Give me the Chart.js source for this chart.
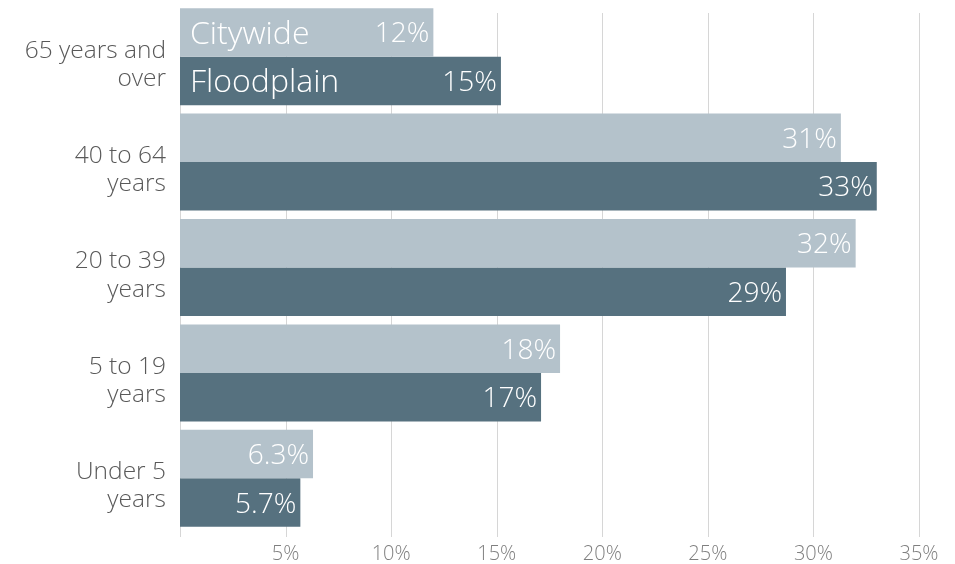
<!DOCTYPE html>
<html>
<head>
<meta charset="utf-8">
<script src="https://cdn.jsdelivr.net/npm/chart.js@4/dist/chart.umd.min.js"></script>
<style>
  html, body { margin: 0; padding: 0; background: #ffffff; }
  #wrap { width: 955px; height: 564px; position: relative; }
</style>
</head>
<body>
<div id="wrap"><canvas id="c"></canvas></div>
<script>
const categories = [
  ["65 years and", "over"],
  ["40 to 64", "years"],
  ["20 to 39", "years"],
  ["5 to 19", "years"],
  ["Under 5", "years"]
];
const seriesNames = ["Citywide", "Floodplain"];
const citywide = [12.0, 31.3, 32.0, 18.0, 6.3];
const floodplain = [15.2, 33.0, 28.7, 17.1, 5.7];
const xTicks = [0, 5, 10, 15, 20, 25, 30, 35];

const FONT = "'Open Sans', 'Segoe UI', sans-serif";

function fmt(v) {
  return v < 10 ? v.toFixed(1) + "%" : Math.round(v) + "%";
}

const gridPlugin = {
  id: 'customGrid',
  beforeDatasetsDraw(chart) {
    const ctx = chart.ctx;
    const xs = chart.scales.x;
    const area = chart.chartArea;
    ctx.save();
    ctx.strokeStyle = '#d6d6d6';
    ctx.lineWidth = 1;
    xTicks.forEach(t => {
      const px = Math.round(xs.getPixelForValue(t)) + 0.5;
      ctx.beginPath();
      ctx.moveTo(px, area.top + 9);
      ctx.lineTo(px, area.bottom + 6);
      ctx.stroke();
    });
    ctx.restore();
  }
};

const labelPlugin = {
  id: 'barLabels',
  afterDatasetsDraw(chart) {
    const ctx = chart.ctx;
    ctx.save();
    ctx.fillStyle = '#ffffff';
    chart.data.datasets.forEach((ds, di) => {
      const meta = chart.getDatasetMeta(di);
      meta.data.forEach((bar, i) => {
        ctx.font = "300 28px " + FONT;
        ctx.textAlign = 'right';
        ctx.textBaseline = 'middle';
        ctx.fillText(fmt(ds.data[i]), bar.x - 4, bar.y + 2);
        if (i === 0) {
          ctx.font = "300 32px " + FONT;
          ctx.textAlign = 'left';
          ctx.fillText(ds.label, bar.base + 10, bar.y + 2);
        }
      });
    });
    ctx.restore();
  }
};

new Chart(document.getElementById('c'), {
  type: 'bar',
  data: {
    labels: categories,
    datasets: [
      { label: seriesNames[0], data: citywide, backgroundColor: '#b4c2cb', borderWidth: 0,
        categoryPercentage: 0.92, barPercentage: 1.0 },
      { label: seriesNames[1], data: floodplain, backgroundColor: '#56717f', borderWidth: 0,
        categoryPercentage: 0.92, barPercentage: 1.0 }
    ]
  },
  options: {
    indexAxis: 'y',
    responsive: true,
    maintainAspectRatio: false,
    animation: false,
    devicePixelRatio: 1,
    layout: { padding: { top: 4, right: 36, left: 0, bottom: 0 } },
    plugins: {
      legend: { display: false },
      tooltip: { enabled: false }
    },
    scales: {
      x: {
        min: 0,
        max: 35,
        afterBuildTicks(scale) { scale.ticks = xTicks.map(v => ({ value: v })); },
        afterFit(scale) { scale.height = 33; scale.paddingLeft = 0; scale.paddingRight = 0; },
        grid: { display: false, drawTicks: false },
        border: { display: false },
        ticks: {
          color: '#7f7f7f',
          font: { family: FONT, size: 20, weight: 300 },
          padding: 11,
          maxRotation: 0,
          callback: (v) => v === 0 ? '' : v + '%'
        }
      },
      y: {
        afterFit(scale) { scale.width = 180; scale.paddingTop = 0; scale.paddingBottom = 0; },
        grid: { display: false, drawTicks: false },
        border: { display: false },
        ticks: {
          color: '#595959',
          font: { family: FONT, size: 24.5, weight: 300, lineHeight: 1.15 },
          padding: 14,
          labelOffset: 8,
          crossAlign: 'near'
        }
      }
    }
  },
  plugins: [gridPlugin, labelPlugin]
});
</script>
</body>
</html>
